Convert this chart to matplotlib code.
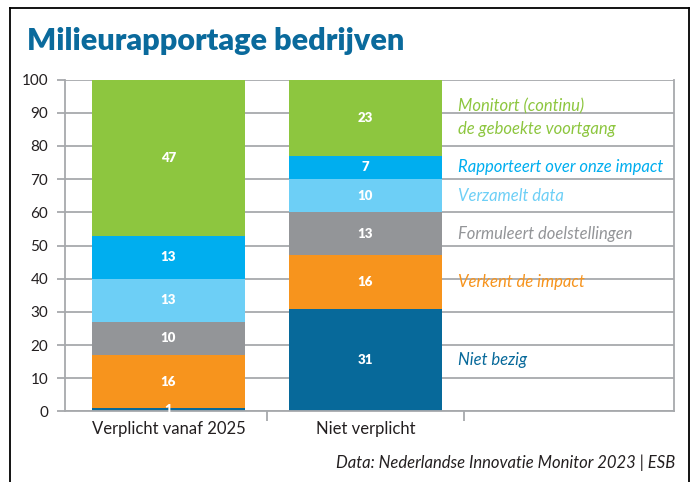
import numpy as np
import matplotlib.pyplot as plt
from matplotlib.lines import Line2D

plt.rcParams['font.family'] = ['Lato', 'DejaVu Sans']

# Data
groups = ['Verplicht vanaf 2025', 'Niet verplicht']
series = ['Niet bezig', 'Verkent de impact', 'Formuleert doelstellingen',
          'Verzamelt data', 'Rapporteert over onze impact',
          'Monitort (continu)\nde geboekte voortgang']
verplicht = [1, 16, 10, 13, 13, 47]
niet_verplicht = [31, 16, 13, 10, 7, 23]
colors = ['#07699a', '#f7941d', '#939598', '#6dcff6', '#00aeef', '#8dc63f']
yticks = [0, 10, 20, 30, 40, 50, 60, 70, 80, 90, 100]

fig = plt.figure(figsize=(6.98, 4.82), dpi=100)
ax = fig.add_axes([0.0931, 0.1463, 0.8725, 0.6887])

x = np.arange(len(groups))
width = 0.777
values = np.array([verplicht, niet_verplicht])
bottoms = np.zeros(len(groups))
for i, col in enumerate(colors):
    vals = values[:, i]
    ax.bar(x, vals, width, bottom=bottoms, color=col, zorder=2)
    for xi, v, b in zip(x, vals, bottoms):
        ax.text(xi, b + v / 2, str(v), ha='center', va='center',
                color='white', fontsize=9.5, fontweight='heavy', zorder=3)
    bottoms += vals

# labels next to second bar
cum = np.cumsum(niet_verplicht) - np.array(niet_verplicht) / 2
for lab, c, col in zip(series, cum, colors):
    ax.text(1.47, c, lab, ha='left', va='center', color=col,
            fontsize=12, style='italic', linespacing=1.5)

ax.set_xlim(-0.525, 2.566)
ax.set_ylim(0, 100)
ax.set_yticks(yticks)
ax.yaxis.grid(True, color='#a7a9ac', linewidth=1.3, zorder=0)
ax.set_axisbelow(True)
ax.tick_params(axis='y', length=6, color='#a7a9ac', width=1.3,
               labelsize=11, labelcolor='#231f20', pad=6)
ax.set_xticks(x)
ax.set_xticklabels(groups, fontsize=12, color='#231f20')
ax.set_xticks([0.5, 1.5], minor=True)
ax.tick_params(axis='x', which='major', length=0, pad=7)
ax.tick_params(axis='x', which='minor', length=7, color='#a7a9ac', width=1.3)
ax.spines['top'].set_visible(False)
for s in ['left', 'right', 'bottom']:
    ax.spines[s].set_color('#a7a9ac')
    ax.spines[s].set_linewidth(1.3)

fig.text(0.039, 0.915, 'Milieurapportage bedrijven', fontsize=22,
         fontweight='heavy', color='#0a6a9c', ha='left', va='center')
fig.text(0.968, 0.04, 'Data: Nederlandse Innovatie Monitor 2023 | ESB',
         fontsize=12, style='italic', color='#231f20', ha='right', va='center')

# frame
fig.add_artist(Line2D([0.0143, 0.0143], [0, 0.983], color='black', lw=1.3))
fig.add_artist(Line2D([0.987, 0.987], [0, 0.983], color='black', lw=1.3))
fig.add_artist(Line2D([0.0143, 0.987], [0.983, 0.983], color='black', lw=1.3))

fig.savefig('out.png', dpi=100)
